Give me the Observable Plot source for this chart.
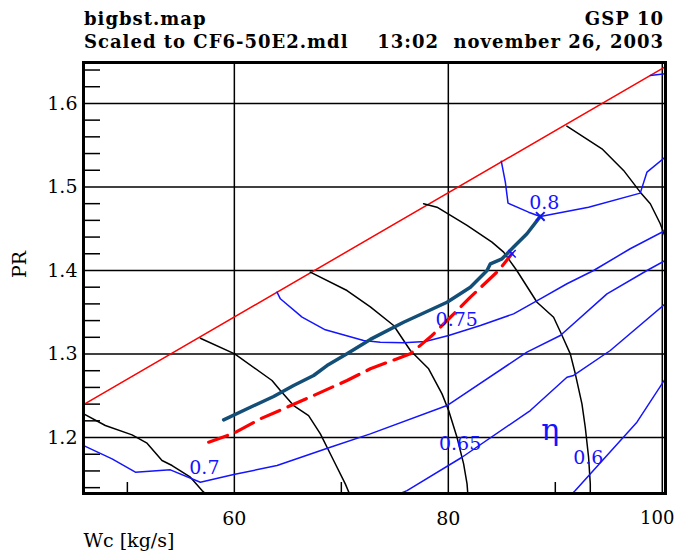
<!DOCTYPE html>
<html><head><meta charset="utf-8">
<script src="https://cdn.jsdelivr.net/npm/d3@7"></script>
<script src="https://cdn.jsdelivr.net/npm/@observablehq/plot@0.6"></script>
<style>
body{margin:0;background:#fff;}
#wrap{position:relative;width:677px;height:558px;}
.t{position:absolute;font-family:"DejaVu Serif",serif;font-weight:bold;font-size:18px;line-height:18px;letter-spacing:1px;color:#000;white-space:pre;z-index:2;}
</style></head><body>
<div id="wrap">
<div class="t" style="left:84px;top:10px">bigbst.map</div>
<div class="t" style="right:13px;top:10px">GSP 10</div>
<div class="t" style="left:84px;top:33px">Scaled to CF6-50E2.mdl</div>
<div class="t" style="right:13px;top:33px">13:02  november 26, 2003</div>
</div>
<script>
// Surge line
const surgeWc = [45.9, 100.3];
const surgePR = [1.2395, 1.644];
// Speed lines (black)
const speed1Wc = [45.92,47.94,50.44,51.84,53.24,54.18,55.89,56.98,57.29];
const speed1PR = [1.2284,1.2144,1.2032,1.1932,1.1725,1.1665,1.1525,1.1365,1.1329];
const speed2Wc = [56.82,60.03,63.52,64.3,65.54,66.94,68.04,69.28,70.37,70.75];
const speed2PR = [1.3189,1.3002,1.2683,1.2563,1.2383,1.2263,1.2044,1.1725,1.1445,1.133];
const speed3Wc = [67.10,70.53,72.71,74.89,76.45,78.16,79.41,80.03,80.81,81.43,81.75,81.82];
const speed3PR = [1.398,1.376,1.3565,1.3341,1.3042,1.2823,1.2523,1.2323,1.2004,1.1685,1.1445,1.133];
const speed4Wc = [77.69,78.94,81.75,84.08,85.17,86.4,88.29,89.84,90.63,91.40,91.87,92.49,92.80,93.11,93.27,93.27];
const speed4PR = [1.4799,1.4758,1.4539,1.4339,1.422,1.40,1.362,1.344,1.3222,1.3002,1.2763,1.2404,1.2123,1.1764,1.1445,1.133];
const speed5Wc = [91.08,94.36,96.38,97.94,98.88,99.81,100.28];
const speed5PR = [1.5728,1.5457,1.5198,1.4938,1.4799,1.4559,1.44];
// Efficiency contours (blue)
const eta80Wc = [84.95,85.33,85.58,87.50,88.6,93.11,97.94,98.57,100.28];
const eta80PR = [1.5309,1.5058,1.4806,1.4698,1.4647,1.4758,1.4926,1.5178,1.5357];
const eta80bWc = [98.88,100.28];
const eta80bPR = [1.6335,1.6355];
const eta75Wc = [63.99,64.3,66.33,68.5,72.08,73.64,75.82,77.85,80.03,83.0,86.1,88.6,91.09,93.58,97.0,100.28];
const eta75PR = [1.374,1.3661,1.3441,1.329,1.3162,1.3141,1.3134,1.315,1.3222,1.3341,1.3481,1.3661,1.3841,1.40,1.426,1.448];
const eta70Wc = [45.92,48.57,50.75,54.02,56.82,59.94,63.99,68.97,72.71,79.88,87.35,90.47,94.83,98.57,100.28];
const eta70PR = [1.1904,1.1745,1.1585,1.1613,1.1465,1.1557,1.1665,1.1884,1.2044,1.2383,1.3022,1.3222,1.372,1.40,1.412];
const eta65Wc = [75.51,76.14,81.28,87.66,91.09,91.71,95.14,100.28];
const eta65PR = [1.133,1.1365,1.1764,1.2323,1.2722,1.2743,1.3042,1.360];
const eta60Wc = [91.59,91.87,97.63,100.28];
const eta60PR = [1.133,1.1365,1.2184,1.2703];
// Operating lines
const opWc = [59.0,61.5,63.67,65.54,67.41,68.66,70.53,72.71,75.82,79.88,82.06,83.62,83.93,85.02,86.1,87.35,88.6];
const opPR = [1.2212,1.2363,1.2491,1.2623,1.2743,1.2862,1.3002,1.3175,1.338,1.362,1.380,1.40,1.408,1.414,1.428,1.444,1.4647];
const dashWc = [57.6,59.94,62.43,64.93,67.41,70.53,72.71,76.45,78.48,80.19,82.06,84.7,85.95];
const dashPR = [1.1944,1.2051,1.2224,1.2363,1.2503,1.2683,1.2823,1.3002,1.3222,1.344,1.368,1.40,1.42];
// Labels
const labelText = ["0.8","0.75","0.7","0.65","0.6"];
const labelWc = [88.97,80.79,57.2,81.1,93.08];
const labelPR = [1.4814,1.3413,1.164,1.1928,1.1754];
const etaSym = [{t:"η", x:89.53, y:1.2084}];
// Ticks
const xMajor = [60,80];
const xEnd = [100];
const xMinor = [50,70,90];
const yMajor = [1.2,1.3,1.4,1.5,1.6];
const yMinor = d3.range(1.14,1.65,0.02).filter(v=>!yMajor.some(m=>Math.abs(m-v)<1e-6));

const pts = (xs,ys)=>xs.map((x,i)=>({x,y:ys[i]}));
const BLUE="#1414ff", DARK="#134e77", RED="#ff0000";
const speeds=[[speed1Wc,speed1PR],[speed2Wc,speed2PR],[speed3Wc,speed3PR],[speed4Wc,speed4PR],[speed5Wc,speed5PR]];
const etas=[[eta80Wc,eta80PR],[eta80bWc,eta80bPR],[eta75Wc,eta75PR],[eta70Wc,eta70PR],[eta65Wc,eta65PR],[eta60Wc,eta60PR]];
const labels = labelText.map((t,i)=>({t,x:labelWc[i],y:labelPR[i]}));

const chart = Plot.plot({
  width:677, height:558,
  marginTop:62, marginLeft:83, marginRight:12, marginBottom:65,
  x:{domain:[45.9,100.3]},
  y:{domain:[1.133,1.649]},
  style:{fontFamily:"DejaVu Serif, serif", background:"transparent"},
  marks:[
    Plot.gridX([...xMajor,...xEnd],{stroke:"#000",strokeOpacity:1,strokeWidth:1.5}),
    Plot.gridY(yMajor,{stroke:"#000",strokeOpacity:1,strokeWidth:1.5}),
    Plot.axisY(yMinor,{tickSize:-17,text:null,label:null,strokeWidth:1.5}),
    Plot.axisX(xMinor,{tickSize:-11,text:null,label:null,strokeWidth:1.5}),
    Plot.axisX(xMajor,{tickSize:0,tickPadding:18,fontSize:19,letterSpacing:"1px",label:null}),
    Plot.axisX(xEnd,{tickSize:0,tickPadding:18,fontSize:18,label:null,dx:-5}),
    Plot.axisY(yMajor,{tickSize:0,tickPadding:6,fontSize:19,letterSpacing:"1px",label:null,tickFormat:d=>d.toFixed(1)}),
    Plot.line(pts(surgeWc,surgePR),{x:"x",y:"y",stroke:RED,strokeWidth:1.5}),
    ...speeds.map(([a,b])=>Plot.line(pts(a,b),{x:"x",y:"y",stroke:"#000",strokeWidth:1.5,clip:true})),
    ...etas.map(([a,b])=>Plot.line(pts(a,b),{x:"x",y:"y",stroke:BLUE,strokeWidth:1.5,clip:true})),
    Plot.line(pts(dashWc,dashPR),{x:"x",y:"y",stroke:RED,strokeWidth:3.2,strokeDasharray:"20,9"}),
    Plot.line(pts(opWc,opPR),{x:"x",y:"y",stroke:DARK,strokeWidth:3.5}),
    Plot.dot([pts(opWc,opPR).at(-1)],{x:"x",y:"y",symbol:"times",r:4,stroke:BLUE,strokeWidth:2}),
    Plot.dot([pts(dashWc,dashPR).at(-1)],{x:"x",y:"y",symbol:"times",r:3.5,stroke:BLUE,strokeWidth:1.5}),
    Plot.text(labels,{x:"x",y:"y",text:"t",fill:BLUE,fontSize:19,letterSpacing:"1px"}),
    Plot.text(etaSym,{x:"x",y:"y",text:"t",fill:BLUE,fontSize:30}),
    Plot.frame({stroke:"#000",strokeWidth:3}),
    Plot.text(["PR"],{frameAnchor:"left",dx:-64,dy:0,rotate:-90,fontSize:19}),
    Plot.text(["Wc [kg/s]"],{frameAnchor:"bottom-left",dy:53,textAnchor:"start",fontSize:19})
  ]
});
chart.style.position="absolute";chart.style.left="0";chart.style.top="0";
document.getElementById("wrap").prepend(chart);
</script></body></html>
